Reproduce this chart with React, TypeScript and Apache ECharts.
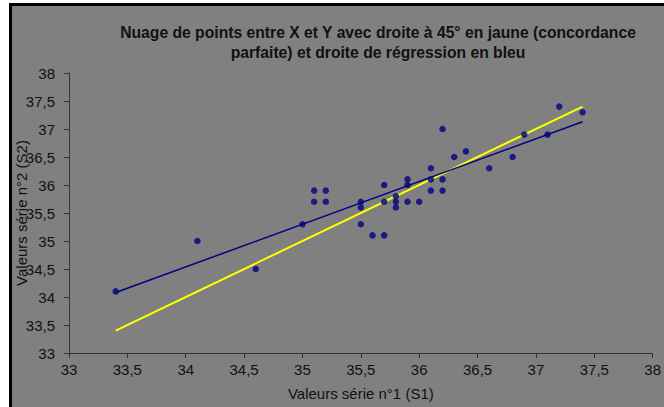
import React, { useEffect, useRef } from "react";
import * as echarts from "echarts";

const titleLines = [
  "Nuage de points entre X et Y avec droite à 45° en jaune (concordance",
  "parfaite) et droite de régression en bleu",
];
const xAxisName = "Valeurs série n°1 (S1)";
const yAxisName = "Valeurs série n°2 (S2)";

const pointsX = [33.4, 34.1, 34.6, 35.0, 35.1, 35.1, 35.2, 35.2, 35.5, 35.5, 35.5, 35.6, 35.7, 35.7, 35.7, 35.8, 35.8, 35.8, 35.9, 35.9, 35.9, 36.0, 36.1, 36.1, 36.1, 36.2, 36.2, 36.2, 36.3, 36.4, 36.6, 36.8, 36.9, 37.1, 37.2, 37.4];
const pointsY = [34.1, 35.0, 34.5, 35.3, 35.9, 35.7, 35.9, 35.7, 35.7, 35.6, 35.3, 35.1, 35.1, 36.0, 35.7, 35.8, 35.7, 35.6, 36.1, 36.0, 35.7, 35.7, 36.3, 36.1, 35.9, 37.0, 36.1, 35.9, 36.5, 36.6, 36.3, 36.5, 36.9, 36.9, 37.4, 37.3];

const diagonalX = [33.4, 37.4];
const diagonalY = [33.4, 37.4];
const regressionX = [33.4, 37.4];
const regressionY = [34.08, 37.13];

const axisMin = 33;
const axisMax = 38;
const axisStep = 0.5;

const FONT = "'Liberation Sans', Arial, sans-serif";

export default function App() {
  const ref = useRef<HTMLDivElement>(null);
  useEffect(() => {
    if (!ref.current) return;
    const chart = echarts.init(ref.current, undefined, { renderer: "svg" });
    const fmt = (v: number) => String(v).replace(".", ",");
    const axisCommon = {
      type: "value" as const,
      min: axisMin,
      max: axisMax,
      interval: axisStep,
      splitLine: { show: false },
      axisLine: { show: true, lineStyle: { color: "#333", width: 1 } },
      axisTick: { show: true, length: 5, lineStyle: { color: "#333" } },
      nameTextStyle: { color: "#111", fontSize: 15, fontFamily: FONT },
      nameMoveOverlap: false,
    };
    chart.setOption({
      animation: false,
      backgroundColor: "#ffffff",
      textStyle: { fontFamily: FONT },
      graphic: [
        {
          type: "rect",
          z: -100,
          silent: true,
          shape: { x: 10.5, y: 4.5, width: 700, height: 500 },
          style: { fill: "#808080", stroke: "#000", lineWidth: 3 },
        },
        ...titleLines.map((t, i) => ({
          type: "text",
          x: 378,
          y: 32 + i * 20,
          style: {
            text: t,
            font: `bold 15.7px ${FONT}`,
            fill: "#111",
            align: "center",
            verticalAlign: "middle",
          },
        })),
      ],
      grid: { left: 69, right: 7, top: 73, bottom: 54 },
      xAxis: {
        ...axisCommon,
        name: xAxisName,
        nameLocation: "middle",
        nameGap: 33,
        axisLabel: { color: "#111", fontSize: 15, margin: 9, formatter: fmt, fontFamily: FONT },
      },
      yAxis: {
        ...axisCommon,
        name: yAxisName,
        nameLocation: "middle",
        nameGap: 40,
        axisLabel: { color: "#111", fontSize: 15, margin: 14, formatter: fmt, fontFamily: FONT },
      },
      series: [
        {
          type: "line",
          data: diagonalX.map((x, i) => [x, diagonalY[i]]),
          showSymbol: false,
          lineStyle: { color: "#ffff00", width: 2 },
          z: 2,
        },
        {
          type: "line",
          data: regressionX.map((x, i) => [x, regressionY[i]]),
          showSymbol: false,
          lineStyle: { color: "#000080", width: 1.5 },
          z: 3,
        },
        {
          type: "scatter",
          data: pointsX.map((x, i) => [x, pointsY[i]]),
          symbol: "circle",
          symbolSize: 6.5,
          itemStyle: { color: "#000080" },
          z: 4,
        },
      ],
    });
    return () => chart.dispose();
  }, []);
  return (
    <div style={{ position: "fixed", left: 0, top: 0, width: 664, height: 407, background: "#fff" }}>
      <div ref={ref} style={{ width: 664, height: 407 }} />
    </div>
  );
}
